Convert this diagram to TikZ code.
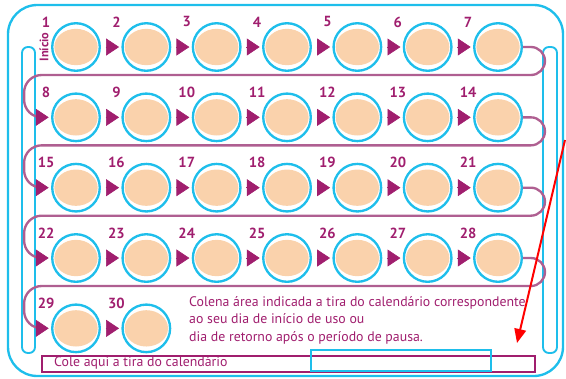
\documentclass[tikz,border=0pt]{standalone}
\usepackage{fontspec}
\setmainfont{PT Sans}
\usetikzlibrary{arrows.meta}

\definecolor{pillcyan}{RGB}{30,190,235}
\definecolor{peach}{RGB}{250,210,172}
\definecolor{plum}{RGB}{160,30,110}
\definecolor{mauve}{RGB}{175,95,145}

\tikzstyle{pill} = [circle, minimum size=40.6pt, inner sep=0pt, draw=pillcyan, line width=2pt, fill=white, path picture={\fill[peach] (path picture bounding box.center) ellipse (18.5pt and 15.5pt);}]
\tikzstyle{num} = [anchor=center, label distance=12pt, text=plum, font=\fontsize{12.5}{12.5}\selectfont\bfseries, inner sep=0pt]
\tikzstyle{start} = [text=plum, font=\fontsize{10.5}{10.5}\selectfont\bfseries, inner sep=0pt]
\tikzstyle{nextarrow} = [plum, line width=0.5pt, -{Triangle[length=11pt,width=14.5pt]}, shorten <=4pt, shorten >=2pt]
\tikzstyle{loopline} = [mauve, line width=2pt, rounded corners=12pt, -{Triangle[length=11pt,width=14.5pt,color=plum,line width=0.5pt]}, shorten >=2pt]
\tikzstyle{note} = [text=plum, font=\fontsize{11.8}{15}\selectfont, align=left, inner sep=0pt]
\tikzstyle{bar} = [draw=pillcyan, line width=1.6pt, rounded corners=5pt]
\tikzstyle{arrow} = [red, line width=1.7pt, -{Triangle[length=12pt,width=10pt]}]

\begin{document}
\begin{tikzpicture}[x=0.03cm, y=-0.03cm, node distance=2.11cm]
\useasboundingbox (0,0) rectangle (566,378);

%Frame
\draw [draw=pillcyan, line width=2pt, rounded corners=25pt] (8,5) rectangle (563,376);
\draw [bar] (22,47) rectangle (35,353);
\draw [bar] (543,47) rectangle (557,353);

%Row 1
\node (p1) [pill, label={[num]140:1}] at (76,47) {};
\node (p2) [pill, right of=p1, label={[num]140:2}] {};
\node (p3) [pill, right of=p2, label={[num]140:3}] {};
\node (p4) [pill, right of=p3, label={[num]140:4}] {};
\node (p5) [pill, right of=p4, label={[num]140:5}] {};
\node (p6) [pill, right of=p5, label={[num]140:6}] {};
\node (p7) [pill, right of=p6, label={[num]140:7}] {};
%Row 2
\node (p8) [pill, below of=p1, label={[num]140:8}] {};
\node (p9) [pill, right of=p8, label={[num]140:9}] {};
\node (p10) [pill, right of=p9, label={[num]140:10}] {};
\node (p11) [pill, right of=p10, label={[num]140:11}] {};
\node (p12) [pill, right of=p11, label={[num]140:12}] {};
\node (p13) [pill, right of=p12, label={[num]140:13}] {};
\node (p14) [pill, right of=p13, label={[num]140:14}] {};
%Row 3
\node (p15) [pill, below of=p8, label={[num]140:15}] {};
\node (p16) [pill, right of=p15, label={[num]140:16}] {};
\node (p17) [pill, right of=p16, label={[num]140:17}] {};
\node (p18) [pill, right of=p17, label={[num]140:18}] {};
\node (p19) [pill, right of=p18, label={[num]140:19}] {};
\node (p20) [pill, right of=p19, label={[num]140:20}] {};
\node (p21) [pill, right of=p20, label={[num]140:21}] {};
%Row 4
\node (p22) [pill, below of=p15, label={[num]140:22}] {};
\node (p23) [pill, right of=p22, label={[num]140:23}] {};
\node (p24) [pill, right of=p23, label={[num]140:24}] {};
\node (p25) [pill, right of=p24, label={[num]140:25}] {};
\node (p26) [pill, right of=p25, label={[num]140:26}] {};
\node (p27) [pill, right of=p26, label={[num]140:27}] {};
\node (p28) [pill, right of=p27, label={[num]140:28}] {};
%Row 5
\node (p29) [pill, below of=p22, label={[num]140:29}] {};
\node (p30) [pill, right of=p29, label={[num]140:30}] {};

\node (inicio) [start, rotate=90] at ([xshift=-6pt]p1.west) {Início};

%Arrows in each row
\draw [nextarrow] (p1) -- (p2);
\draw [nextarrow] (p2) -- (p3);
\draw [nextarrow] (p3) -- (p4);
\draw [nextarrow] (p4) -- (p5);
\draw [nextarrow] (p5) -- (p6);
\draw [nextarrow] (p6) -- (p7);
\draw [nextarrow] (p8) -- (p9);
\draw [nextarrow] (p9) -- (p10);
\draw [nextarrow] (p10) -- (p11);
\draw [nextarrow] (p11) -- (p12);
\draw [nextarrow] (p12) -- (p13);
\draw [nextarrow] (p13) -- (p14);
\draw [nextarrow] (p15) -- (p16);
\draw [nextarrow] (p16) -- (p17);
\draw [nextarrow] (p17) -- (p18);
\draw [nextarrow] (p18) -- (p19);
\draw [nextarrow] (p19) -- (p20);
\draw [nextarrow] (p20) -- (p21);
\draw [nextarrow] (p22) -- (p23);
\draw [nextarrow] (p23) -- (p24);
\draw [nextarrow] (p24) -- (p25);
\draw [nextarrow] (p25) -- (p26);
\draw [nextarrow] (p26) -- (p27);
\draw [nextarrow] (p27) -- (p28);
\draw [nextarrow] (p29) -- (p30);

%Loops to the next row
\draw [loopline] (p7.east) -- ++(22,0) -- ++(0,28) [rounded corners=15pt] -| ([xshift=-23pt]p8.west) -- (p8.west);
\draw [loopline] (p14.east) -- ++(22,0) -- ++(0,28) [rounded corners=15pt] -| ([xshift=-23pt]p15.west) -- (p15.west);
\draw [loopline] (p21.east) -- ++(22,0) -- ++(0,28) [rounded corners=15pt] -| ([xshift=-23pt]p22.west) -- (p22.west);
\draw [loopline] (p28.east) -- ++(22,0) -- ++(0,28) [rounded corners=15pt] -| ([xshift=-23pt]p29.west) -- (p29.west);

%Texts
\node (note) [note, anchor=west] at (189,320) {Colena área indicada a tira do calendário correspondente\\ao seu dia de início de uso ou\\dia de retorno após o período de pausa.};
\draw [plum, line width=1.2pt] (42,356) rectangle (535,372);
\draw [pillcyan, line width=1.2pt] (311,350) rectangle (491,371);
\node (strip) [note, anchor=west] at (54,363) {Cole aqui a tira do calendário};

%Red arrow
\coordinate (redtail) at (565,140);
\coordinate (redhead) at (517,343);
\draw [arrow] (redtail) -- (redhead);

\end{tikzpicture}
\end{document}
